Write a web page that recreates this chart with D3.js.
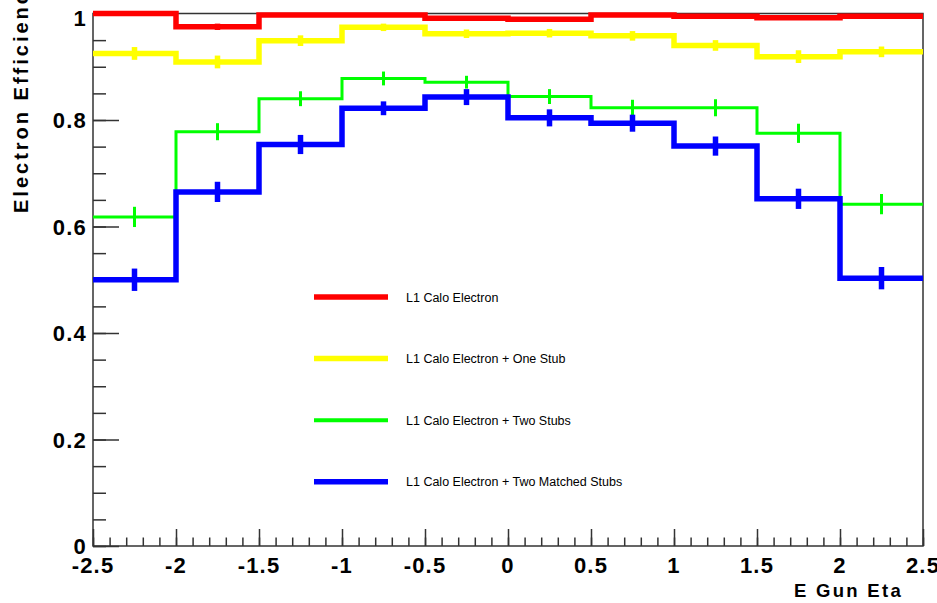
<!DOCTYPE html>
<html>
<head>
<meta charset="utf-8">
<script src="https://cdn.jsdelivr.net/npm/d3@7"></script>
<style>
  body { margin: 0; background: #fff; }
  svg { display: block; }
  .tick-label { font-family: "Liberation Sans", Arial, sans-serif; font-weight: bold; font-size: 22px; letter-spacing: 1.2px; fill: #000; }
  .axis-title { font-family: "Liberation Sans", Arial, sans-serif; font-weight: bold; fill: #000; }
  .legend-text { font-family: "Liberation Sans", Arial, sans-serif; font-size: 12.5px; fill: #000; }
</style>
</head>
<body>
<div class="chart"></div>
<script>
// bin edges in eta
const etaEdges = [-2.5, -2, -1.5, -1, -0.5, 0, 0.5, 1, 1.5, 2, 2.5];

// efficiencies per bin
const effL1 = [1.000, 0.975, 0.997, 0.997, 0.991, 0.989, 0.997, 0.995, 0.992, 0.995];
const errL1 = [0.001, 0.006, 0.003, 0.003, 0.004, 0.004, 0.003, 0.003, 0.004, 0.003];

const effOneStub = [0.925, 0.909, 0.949, 0.974, 0.962, 0.963, 0.958, 0.940, 0.919, 0.928];
const errOneStub = [0.012, 0.012, 0.010, 0.007, 0.008, 0.008, 0.009, 0.010, 0.012, 0.010];

const effTwoStubs = [0.618, 0.778, 0.840, 0.878, 0.871, 0.844, 0.823, 0.823, 0.775, 0.642];
const errTwoStubs = [0.019, 0.016, 0.014, 0.013, 0.012, 0.014, 0.015, 0.016, 0.018, 0.019];

const effMatched = [0.500, 0.665, 0.754, 0.822, 0.843, 0.804, 0.794, 0.751, 0.652, 0.503];
const errMatched = [0.021, 0.019, 0.018, 0.013, 0.015, 0.016, 0.016, 0.018, 0.019, 0.021];

const legendLabels = [
  "L1 Calo Electron",
  "L1 Calo Electron + One Stub",
  "L1 Calo Electron + Two Stubs",
  "L1 Calo Electron + Two Matched Stubs"
];

const xMajorTicks = [-2.5, -2, -1.5, -1, -0.5, 0, 0.5, 1, 1.5, 2, 2.5];
const xTickLabels = ["-2.5", "-2", "-1.5", "-1", "-0.5", "0", "0.5", "1", "1.5", "2", "2.5"];
const yMajorTicks = [0, 0.2, 0.4, 0.6, 0.8, 1];
const yTickLabels = ["0", "0.2", "0.4", "0.6", "0.8", "1"];

const width = 937;
const height = 603;
const frame = { left: 93, right: 923, top: 13.5, bottom: 546 };

const series = [
  { name: legendLabels[0], values: effL1, errors: errL1, color: "#ff0000", width: 5.5 },
  { name: legendLabels[1], values: effOneStub, errors: errOneStub, color: "#ffff00", width: 5.5 },
  { name: legendLabels[2], values: effTwoStubs, errors: errTwoStubs, color: "#00ff00", width: 3 },
  { name: legendLabels[3], values: effMatched, errors: errMatched, color: "#0000ff", width: 5.5 }
];

const svg = d3.select(".chart").append("svg")
  .attr("width", width)
  .attr("height", height);

const x = d3.scaleLinear().domain([-2.5, 2.5]).range([frame.left, frame.right]);
const y = d3.scaleLinear().domain([0, 1]).range([frame.bottom, frame.top]);

// frame (right + top edges, axes drawn below)
svg.append("rect")
  .attr("x", frame.left)
  .attr("y", frame.top)
  .attr("width", frame.right - frame.left)
  .attr("height", frame.bottom - frame.top)
  .attr("fill", "none")
  .attr("stroke", "#333")
  .attr("stroke-width", 1.5);

// minor ticks every 0.1 in x, every 0.05 in y
const xMinor = d3.range(0, 51).map(i => -2.5 + i * 0.1);
const yMinor = d3.range(0, 21).map(i => i * 0.05);

function styleAxis(g) {
  g.select(".domain").remove();
  g.selectAll("line").attr("stroke", "#333").attr("stroke-width", 1.5);
}

svg.append("g")
  .attr("transform", `translate(0,${frame.bottom})`)
  .call(d3.axisTop(x).tickValues(xMinor).tickSize(8.5).tickFormat(""))
  .call(styleAxis);

svg.append("g")
  .attr("transform", `translate(0,${frame.bottom})`)
  .call(d3.axisTop(x).tickValues(xMajorTicks).tickSize(17).tickFormat(""))
  .call(styleAxis);

svg.append("g")
  .attr("transform", `translate(${frame.left},0)`)
  .call(d3.axisRight(y).tickValues(yMinor).tickSize(13).tickFormat(""))
  .call(styleAxis);

svg.append("g")
  .attr("transform", `translate(${frame.left},0)`)
  .call(d3.axisRight(y).tickValues(yMajorTicks).tickSize(26).tickFormat(""))
  .call(styleAxis);

// tick labels
svg.selectAll(".xlab")
  .data(xMajorTicks)
  .enter()
  .append("text")
  .attr("class", "tick-label")
  .attr("x", d => x(d))
  .attr("y", 573)
  .attr("text-anchor", "middle")
  .text((d, i) => xTickLabels[i]);

svg.selectAll(".ylab")
  .data(yMajorTicks)
  .enter()
  .append("text")
  .attr("class", "tick-label")
  .attr("x", 87)
  .attr("y", d => Math.max(y(d) + 8, 26))
  .attr("text-anchor", "end")
  .text((d, i) => yTickLabels[i]);

// axis titles
svg.append("text")
  .attr("class", "axis-title")
  .attr("x", 903)
  .attr("y", 597)
  .attr("text-anchor", "end")
  .style("font-size", "18.5px")
  .style("letter-spacing", "2.3px")
  .text("E Gun Eta");

svg.append("text")
  .attr("class", "axis-title")
  .attr("transform", "translate(27.5,213) rotate(-90)")
  .attr("text-anchor", "start")
  .style("font-size", "20px")
  .style("letter-spacing", "3px")
  .text("Electron Efficiency");

// histograms as steps plus error bars
const stepLine = d3.line().x(d => x(d[0])).y(d => y(d[1])).curve(d3.curveLinear);

series.forEach(s => {
  const pts = [];
  s.values.forEach((v, i) => {
    pts.push([etaEdges[i], v]);
    pts.push([etaEdges[i + 1], v]);
  });

  const g = svg.append("g");
  g.append("path")
    .attr("d", stepLine(pts))
    .attr("fill", "none")
    .attr("stroke", s.color)
    .attr("stroke-width", s.width)
    .attr("stroke-linejoin", "miter")
    .attr("stroke-linecap", "butt");

  g.selectAll(".err")
    .data(s.values)
    .enter()
    .append("line")
    .attr("x1", (d, i) => x((etaEdges[i] + etaEdges[i + 1]) / 2))
    .attr("x2", (d, i) => x((etaEdges[i] + etaEdges[i + 1]) / 2))
    .attr("y1", (d, i) => y(d + s.errors[i]))
    .attr("y2", (d, i) => y(d - s.errors[i]))
    .attr("stroke", s.color)
    .attr("stroke-width", s.width);
});

// legend
const legend = svg.selectAll(".legend")
  .data(series)
  .enter()
  .append("g")
  .attr("transform", (d, i) => `translate(314, ${297 + i * 61.6})`);

legend.append("line")
  .attr("x1", 0)
  .attr("x2", 74)
  .attr("stroke", d => d.color)
  .attr("stroke-width", d => d.width === 3 ? 4 : 5.5);

legend.append("text")
  .attr("class", "legend-text")
  .attr("x", 92)
  .attr("y", 4.5)
  .text(d => d.name);
</script>
</body>
</html>
